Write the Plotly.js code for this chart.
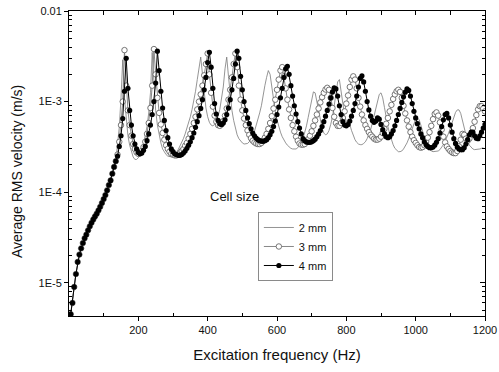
<!DOCTYPE html>
<html>
<head>
<meta charset="utf-8">
<script src="https://cdn.plot.ly/plotly-3.0.1.min.js"></script>
<style>html,body{margin:0;padding:0;background:#fff;}#chart{width:499px;height:372px;}</style>
</head>
<body>
<div id="chart"></div>
<script>
// Excitation frequency grid (Hz)
const freq = [
5,10,15,20,25,30,35,40,45,50,55,60,65,70,75,80,85,90,95,100,
105,110,115,120,125,130,135,140,145,150,155,160,165,170,175,180,185,190,195,200,
205,210,215,220,225,230,235,240,245,250,255,260,265,270,275,280,285,290,295,300,
305,310,315,320,325,330,335,340,345,350,355,360,365,370,375,380,385,390,395,400,
405,410,415,420,425,430,435,440,445,450,455,460,465,470,475,480,485,490,495,500,
505,510,515,520,525,530,535,540,545,550,555,560,565,570,575,580,585,590,595,600,
605,610,615,620,625,630,635,640,645,650,655,660,665,670,675,680,685,690,695,700,
705,710,715,720,725,730,735,740,745,750,755,760,765,770,775,780,785,790,795,800,
805,810,815,820,825,830,835,840,845,850,855,860,865,870,875,880,885,890,895,900,
905,910,915,920,925,930,935,940,945,950,955,960,965,970,975,980,985,990,995,1000,
1005,1010,1015,1020,1025,1030,1035,1040,1045,1050,1055,1060,1065,1070,1075,1080,1085,1090,1095,1100,
1105,1110,1115,1120,1125,1130,1135,1140,1145,1150,1155,1160,1165,1170,1175,1180,1185,1190,1195,1200
];

// Common low-frequency part, 5..135 Hz (all three cell sizes coincide)
const lowPart = [
4.5e-6,6.0e-6,9.0e-6,1.25e-5,1.7e-5,2.05e-5,2.4e-5,2.75e-5,3.1e-5,3.4e-5,
3.8e-5,4.2e-5,4.6e-5,5.0e-5,5.4e-5,5.8e-5,6.3e-5,6.9e-5,7.6e-5,8.4e-5,
9.3e-5,1.05e-4,1.2e-4,1.35e-4,1.6e-4,1.9e-4,2.2e-4
];

// 2 mm, 140..1200 Hz
const mm2High = [
3.4e-4,5.2e-4,1.1e-3,2.9e-3,1.1e-3,6.0e-4,4.2e-4,3.3e-4,2.8e-4,2.45e-4,2.3e-4,2.3e-4,
2.4e-4,2.6e-4,2.9e-4,3.4e-4,4.1e-4,5.3e-4,7.5e-4,1.25e-3,3.5e-3,1.5e-3,8.0e-4,5.5e-4,4.2e-4,3.5e-4,3.0e-4,2.75e-4,2.6e-4,2.5e-4,2.45e-4,2.45e-4,
2.5e-4,2.6e-4,2.75e-4,2.95e-4,3.2e-4,3.5e-4,3.9e-4,4.4e-4,5.0e-4,5.8e-4,6.8e-4,8.2e-4,1.0e-3,1.3e-3,1.75e-3,2.5e-3,3.1e-3,2.0e-3,1.2e-3,8.5e-4,
6.8e-4,5.9e-4,5.5e-4,5.4e-4,5.6e-4,6.1e-4,6.9e-4,8.2e-4,1.05e-3,1.45e-3,2.3e-3,3.1e-3,1.9e-3,1.15e-3,8.0e-4,6.2e-4,5.0e-4,4.3e-4,3.9e-4,3.65e-4,
3.5e-4,3.4e-4,3.4e-4,3.45e-4,3.6e-4,3.85e-4,4.2e-4,4.7e-4,5.4e-4,6.3e-4,7.5e-4,9.0e-4,1.2e-3,1.5e-3,1.85e-3,2.2e-3,2.0e-3,1.4e-3,1.0e-3,7.8e-4,
6.3e-4,5.3e-4,4.6e-4,4.1e-4,3.75e-4,3.5e-4,3.3e-4,3.15e-4,3.05e-4,3.0e-4,3.0e-4,3.0e-4,3.1e-4,3.25e-4,3.5e-4,3.9e-4,4.5e-4,5.4e-4,6.7e-4,8.4e-4,
1.05e-3,1.28e-3,1.25e-3,1.0e-3,7.8e-4,6.2e-4,5.1e-4,4.5e-4,4.3e-4,4.4e-4,4.8e-4,5.6e-4,6.8e-4,9.0e-4,1.25e-3,1.65e-3,1.75e-3,1.35e-3,9.5e-4,7.0e-4,
6.0e-4,6.0e-4,5.6e-4,4.8e-4,4.2e-4,3.8e-4,3.55e-4,3.4e-4,3.35e-4,3.35e-4,3.45e-4,3.6e-4,3.9e-4,4.3e-4,4.9e-4,5.8e-4,7.0e-4,8.6e-4,1.05e-3,1.2e-3,
1.25e-3,1.1e-3,8.6e-4,6.6e-4,5.3e-4,4.4e-4,3.8e-4,3.35e-4,3.05e-4,2.9e-4,2.8e-4,2.8e-4,2.85e-4,3.0e-4,3.2e-4,3.5e-4,3.9e-4,4.4e-4,5.1e-4,5.8e-4,
6.4e-4,6.6e-4,6.3e-4,5.5e-4,4.6e-4,3.9e-4,3.45e-4,3.15e-4,2.95e-4,2.85e-4,2.8e-4,2.8e-4,2.8e-4,2.85e-4,2.95e-4,3.1e-4,3.35e-4,3.65e-4,4.0e-4,4.5e-4,
5.1e-4,5.9e-4,6.8e-4,7.6e-4,8.1e-4,8.1e-4,7.4e-4,6.2e-4,5.0e-4,4.1e-4,3.6e-4,3.3e-4,3.1e-4,3.0e-4,2.95e-4,2.95e-4,3.0e-4,3.0e-4,3.05e-4,3.1e-4
];

// 3 mm, 140..1200 Hz
const mm3High = [
2.6e-4,3.6e-4,5.5e-4,1.0e-3,3.7e-3,1.5e-3,8.0e-4,5.5e-4,4.2e-4,3.4e-4,3.0e-4,2.75e-4,
2.65e-4,2.7e-4,2.85e-4,3.15e-4,3.6e-4,4.4e-4,5.8e-4,8.5e-4,1.5e-3,3.8e-3,2.0e-3,1.1e-3,7.5e-4,5.6e-4,4.5e-4,3.8e-4,3.3e-4,3.0e-4,2.8e-4,2.65e-4,
2.6e-4,2.55e-4,2.55e-4,2.6e-4,2.7e-4,2.85e-4,3.0e-4,3.25e-4,3.5e-4,3.9e-4,4.4e-4,5.0e-4,5.8e-4,6.8e-4,8.2e-4,1.0e-3,1.2e-3,1.5e-3,1.95e-3,2.6e-3,
3.4e-3,2.0e-3,1.25e-3,8.8e-4,7.0e-4,6.0e-4,5.5e-4,5.4e-4,5.6e-4,6.1e-4,7.0e-4,8.4e-4,1.05e-3,1.35e-3,1.85e-3,2.6e-3,3.4e-3,2.4e-3,1.5e-3,1.05e-3,
8.0e-4,6.5e-4,5.5e-4,4.8e-4,4.3e-4,3.95e-4,3.7e-4,3.55e-4,3.45e-4,3.4e-4,3.4e-4,3.5e-4,3.7e-4,4.0e-4,4.4e-4,5.0e-4,5.8e-4,6.9e-4,8.4e-4,1.05e-3,
1.35e-3,1.75e-3,2.2e-3,2.4e-3,1.9e-3,1.4e-3,1.05e-3,8.2e-4,6.6e-4,5.5e-4,4.7e-4,4.1e-4,3.7e-4,3.45e-4,3.35e-4,3.35e-4,3.4e-4,3.6e-4,3.85e-4,4.2e-4,
4.7e-4,5.4e-4,6.2e-4,7.2e-4,8.4e-4,9.8e-4,1.12e-3,1.25e-3,1.36e-3,1.42e-3,1.35e-3,1.1e-3,8.5e-4,6.8e-4,5.8e-4,5.4e-4,5.4e-4,5.8e-4,6.6e-4,7.8e-4,
9.5e-4,1.17e-3,1.45e-3,1.75e-3,1.9e-3,1.75e-3,1.4e-3,1.1e-3,8.8e-4,7.2e-4,6.2e-4,5.5e-4,5.0e-4,4.6e-4,4.3e-4,4.1e-4,3.9e-4,3.8e-4,3.8e-4,3.9e-4,
4.1e-4,4.5e-4,5.0e-4,5.7e-4,6.6e-4,7.8e-4,9.2e-4,1.07e-3,1.2e-3,1.3e-3,1.35e-3,1.28e-3,1.1e-3,9.0e-4,7.4e-4,6.2e-4,5.3e-4,4.6e-4,4.1e-4,3.75e-4,
3.5e-4,3.3e-4,3.15e-4,3.1e-4,3.15e-4,3.3e-4,3.6e-4,4.0e-4,4.6e-4,5.4e-4,6.4e-4,7.3e-4,7.6e-4,7.0e-4,5.9e-4,4.9e-4,4.1e-4,3.55e-4,3.2e-4,3.0e-4,
2.85e-4,2.75e-4,2.7e-4,2.7e-4,2.85e-4,3.2e-4,3.8e-4,4.4e-4,4.3e-4,3.9e-4,3.7e-4,3.9e-4,4.4e-4,5.1e-4,6.0e-4,7.1e-4,8.2e-4,8.9e-4,8.9e-4,8.4e-4,
7.8e-4
];

// 4 mm, 140..1200 Hz
const mm4High = [
2.5e-4,3.2e-4,4.2e-4,6.5e-4,1.3e-3,3.0e-3,1.4e-3,8.0e-4,5.5e-4,4.2e-4,3.4e-4,3.0e-4,
2.75e-4,2.65e-4,2.7e-4,2.9e-4,3.2e-4,3.7e-4,4.4e-4,5.5e-4,7.2e-4,1.0e-3,1.6e-3,3.6e-3,2.2e-3,1.3e-3,8.5e-4,6.2e-4,4.8e-4,4.0e-4,3.4e-4,3.0e-4,
2.8e-4,2.65e-4,2.6e-4,2.55e-4,2.55e-4,2.6e-4,2.7e-4,2.85e-4,3.05e-4,3.3e-4,3.6e-4,4.0e-4,4.5e-4,5.2e-4,6.0e-4,7.0e-4,8.4e-4,1.05e-3,1.35e-3,1.85e-3,
2.7e-3,3.5e-3,2.4e-3,1.4e-3,9.5e-4,7.3e-4,6.2e-4,5.7e-4,5.6e-4,5.8e-4,6.3e-4,7.2e-4,8.5e-4,1.05e-3,1.35e-3,1.8e-3,2.6e-3,3.6e-3,3.0e-3,1.9e-3,
1.35e-3,1.0e-3,8.0e-4,6.6e-4,5.7e-4,5.0e-4,4.5e-4,4.2e-4,3.95e-4,3.8e-4,3.7e-4,3.65e-4,3.65e-4,3.7e-4,3.8e-4,4.0e-4,4.3e-4,4.7e-4,5.3e-4,6.1e-4,
7.2e-4,8.7e-4,1.1e-3,1.4e-3,1.85e-3,2.3e-3,2.45e-3,2.0e-3,1.5e-3,1.15e-3,9.0e-4,7.3e-4,6.0e-4,5.1e-4,4.4e-4,3.9e-4,3.7e-4,3.6e-4,3.55e-4,3.55e-4,
3.6e-4,3.7e-4,3.85e-4,4.1e-4,4.4e-4,4.8e-4,5.3e-4,6.0e-4,6.9e-4,8.0e-4,9.4e-4,1.1e-3,1.28e-3,1.42e-3,1.38e-3,1.15e-3,9.0e-4,7.2e-4,6.0e-4,5.5e-4,
5.4e-4,5.6e-4,6.1e-4,6.9e-4,8.0e-4,9.5e-4,1.15e-3,1.45e-3,1.8e-3,1.93e-3,1.65e-3,1.3e-3,1.0e-3,8.1e-4,6.9e-4,6.2e-4,5.9e-4,6.1e-4,6.6e-4,6.4e-4,
5.6e-4,4.9e-4,4.4e-4,4.1e-4,4.0e-4,4.1e-4,4.4e-4,4.8e-4,5.4e-4,6.2e-4,7.2e-4,8.4e-4,9.8e-4,1.13e-3,1.27e-3,1.38e-3,1.33e-3,1.15e-3,9.5e-4,7.8e-4,
6.6e-4,5.7e-4,5.0e-4,4.4e-4,4.0e-4,3.6e-4,3.35e-4,3.2e-4,3.1e-4,3.1e-4,3.15e-4,3.3e-4,3.55e-4,3.9e-4,4.5e-4,5.3e-4,6.3e-4,7.2e-4,7.4e-4,6.6e-4,
5.5e-4,4.6e-4,3.9e-4,3.45e-4,3.15e-4,3.0e-4,2.95e-4,2.95e-4,3.1e-4,3.4e-4,3.8e-4,4.3e-4,4.6e-4,4.6e-4,4.2e-4,3.95e-4,3.9e-4,4.2e-4,4.6e-4,5.1e-4,
5.6e-4
];

const seriesNames = ['2 mm', '3 mm', '4 mm'];
const xTickVals = [200, 400, 600, 800, 1000, 1200];
const yTickVals = [1e-5, 1e-4, 1e-3, 1e-2];
const yTickText = ['1E-5', '1E-4', '1E-3', '0.01'];

const mm2 = lowPart.concat(mm2High);
const mm3 = lowPart.concat(mm3High);
const mm4 = lowPart.concat(mm4High);

const yMin = 4.3e-6, yMax = 1e-2;
const yRange = [Math.log10(yMin), Math.log10(yMax)];
const xRange = [0, 1200];

// minor tick positions (axis decoration)
const xMinor = [];
for (let v = 100; v < 1200; v += 200) xMinor.push(v);
const yMinor = [];
for (let d = -6; d <= -3; d++) for (let m = 2; m <= 9; m++) {
  const v = m * Math.pow(10, d);
  if (v > yMin && v < yMax) yMinor.push(v);
}

const traces = [
  {x: freq, y: mm2, name: seriesNames[0], type: 'scatter', mode: 'lines',
   line: {color: '#7a7a7a', width: 0.8}},
  {x: freq, y: mm3, name: seriesNames[1], type: 'scatter', mode: 'lines+markers',
   line: {color: '#6a6a6a', width: 0.8},
   marker: {symbol: 'circle', size: 5.5, color: '#ffffff', line: {color: '#555', width: 0.8}}},
  {x: freq, y: mm4, name: seriesNames[2], type: 'scatter', mode: 'lines+markers',
   line: {color: '#000', width: 1},
   marker: {symbol: 'circle', size: 5.2, color: '#000'}},
  {x: [], y: [], xaxis: 'x2', yaxis: 'y2', showlegend: false, hoverinfo: 'skip', type: 'scatter'}
];

const fontFam = '"Liberation Sans", Arial, Helvetica, sans-serif';
const layout = {
  width: 499, height: 372,
  margin: {l: 69, r: 14, t: 11, b: 56},
  paper_bgcolor: '#fff', plot_bgcolor: '#fff',
  font: {family: fontFam, color: '#111', size: 12},
  showlegend: true,
  xaxis: {
    range: xRange, tickmode: 'array', tickvals: xTickVals,
    ticks: 'outside', ticklen: 4, tickwidth: 1, tickcolor: '#000',
    showline: true, linecolor: '#000', linewidth: 1, showgrid: false, zeroline: false,
    tickfont: {size: 11, color: '#111'},
    minor: {tickmode: 'array', tickvals: xMinor, ticks: 'inside', ticklen: 3, tickcolor: '#000', showgrid: false},
    title: {text: 'Excitation frequency (Hz)', font: {size: 15, color: '#111'}, standoff: 14}
  },
  yaxis: {
    type: 'log', range: yRange, tickmode: 'array', tickvals: yTickVals, ticktext: yTickText,
    ticks: 'outside', ticklen: 4, tickwidth: 1, tickcolor: '#000',
    showline: true, linecolor: '#000', linewidth: 1, showgrid: false, zeroline: false,
    tickfont: {size: 11, color: '#111'},
    minor: {tickmode: 'array', tickvals: yMinor, ticks: 'inside', ticklen: 3, tickcolor: '#000', showgrid: false}
  },
  xaxis2: {
    overlaying: 'x', side: 'top', anchor: 'y', range: xRange,
    tickmode: 'linear', tick0: 0, dtick: 100, ticks: 'inside', ticklen: 4, tickcolor: '#000',
    showticklabels: false, showline: true, linecolor: '#000', linewidth: 1, showgrid: false, zeroline: false
  },
  yaxis2: {
    overlaying: 'y', side: 'right', anchor: 'x', type: 'log', range: yRange,
    tickmode: 'array', tickvals: yTickVals, ticks: 'inside', ticklen: 5, tickcolor: '#000',
    minor: {tickmode: 'array', tickvals: yMinor, ticks: 'inside', ticklen: 3, tickcolor: '#000', showgrid: false},
    showticklabels: false, showline: true, linecolor: '#000', linewidth: 1, showgrid: false, zeroline: false
  },
  legend: {
    x: 0.454, y: 0.341, xanchor: 'left', yanchor: 'top',
    bordercolor: '#8a8a8a', borderwidth: 1, bgcolor: '#fff',
    font: {size: 11, color: '#111'}, itemwidth: 30, tracegroupgap: 0
  },
  annotations: [
    {text: 'Cell size', xref: 'paper', yref: 'paper', x: 0.397, y: 0.393,
     xanchor: 'center', yanchor: 'middle', showarrow: false, font: {size: 13, color: '#111'}},
    {text: 'Average RMS velocity (m/s)', xref: 'paper', yref: 'paper', x: -0.125, y: 0.472,
     xanchor: 'center', yanchor: 'middle', textangle: -90, showarrow: false, font: {size: 14, color: '#111'}}
  ]
};

Plotly.newPlot('chart', traces, layout, {displayModeBar: false, staticPlot: true});
</script>
</body>
</html>
